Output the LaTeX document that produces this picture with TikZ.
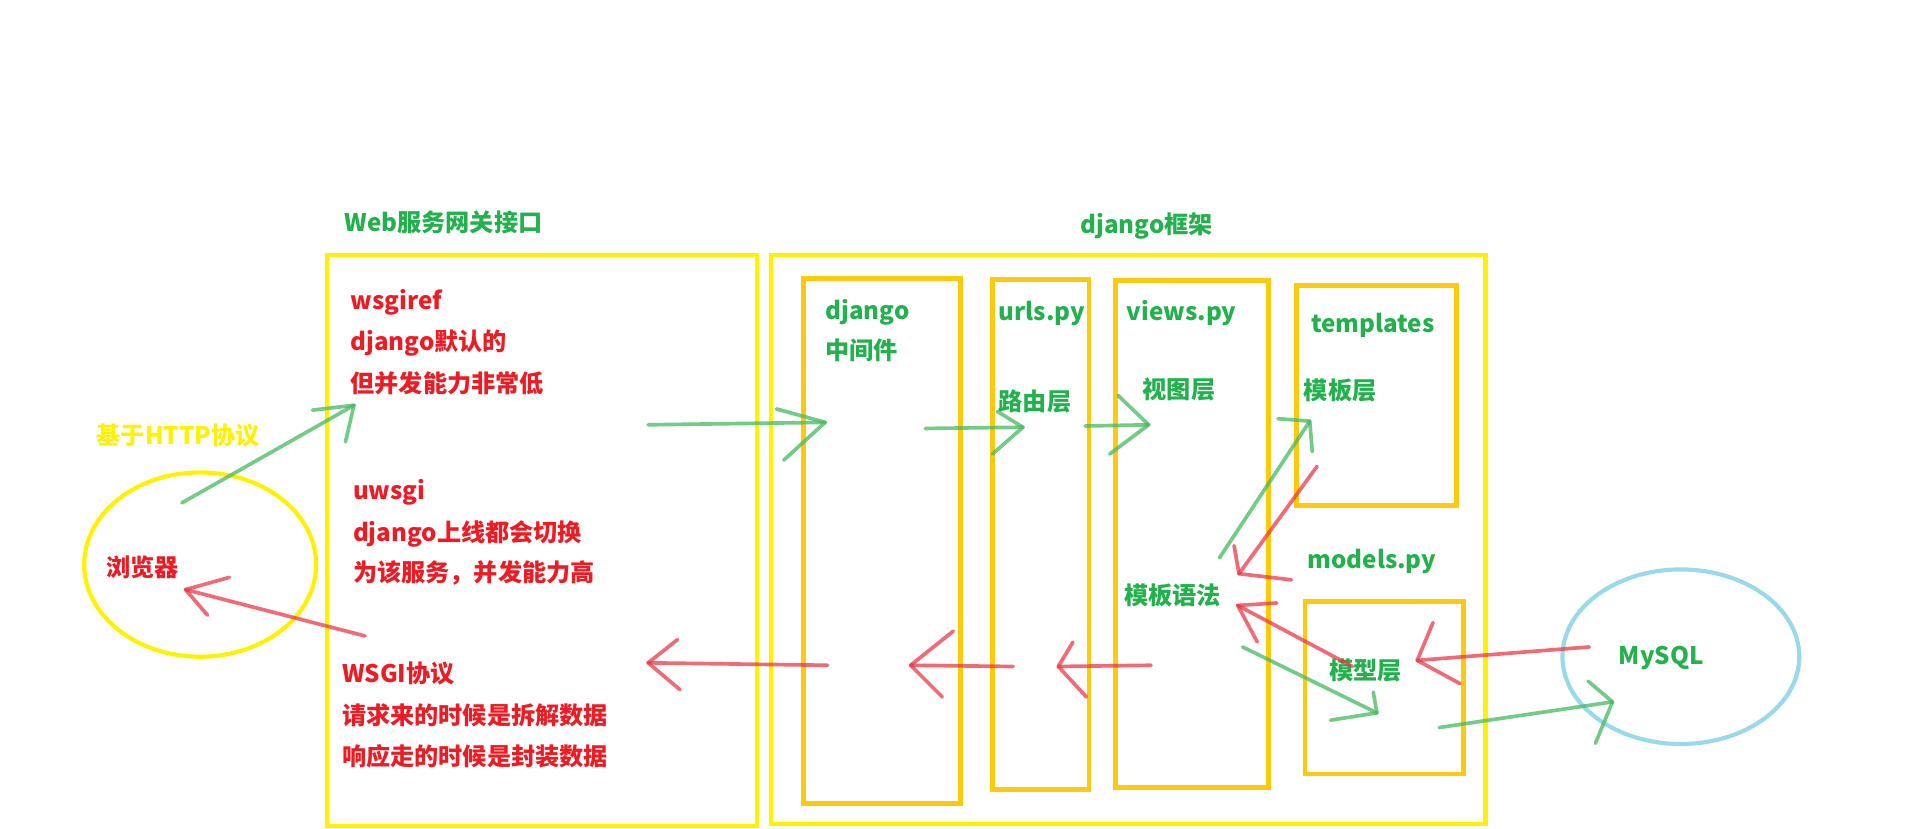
\documentclass[tikz,border=0pt]{standalone}
\usepackage{fontspec}
\setmainfont{Noto Sans CJK SC}
\definecolor{pgreen}{RGB}{34,177,76}
\definecolor{pred}{RGB}{237,28,36}
\definecolor{pyellow}{RGB}{255,242,0}
\definecolor{porange}{RGB}{255,201,14}
\definecolor{pblue}{RGB}{153,217,234}
\definecolor{agreen}{RGB}{70,185,95}
\definecolor{ared}{RGB}{235,50,65}
\tikzset{
  lbl/.style={anchor=west,inner sep=0pt,yshift=-3pt,text height=0.8em,text depth=0.12em,font=\bfseries\fontsize{19.8}{23}\selectfont},
  gtxt/.style={lbl,text=pgreen},
  rtxt/.style={lbl,text=pred},
  ytxt/.style={lbl,text=pyellow},
  outerbox/.style={draw=pyellow,line width=3.4pt},
  innerbox/.style={draw=porange,line width=3.8pt},
  garrow/.style={draw=agreen,line width=3pt,opacity=0.75,line cap=round,line join=round},
  rarrow/.style={draw=ared,line width=3pt,opacity=0.72,line cap=round,line join=round},
}
\begin{document}
\begin{tikzpicture}[x=1pt,y=-1pt]
\useasboundingbox[fill=white] (0,0) rectangle (1568,679);

% boxes
\draw[outerbox] (268,209) rectangle (620,677);
\draw[outerbox] (631.5,209) rectangle (1217,675);
\draw[innerbox] (658.5,228) rectangle (787,658);
\draw[innerbox] (813,229) rectangle (892,647);
\draw[innerbox] (914,230) rectangle (1039,645);
\draw[innerbox] (1062,234) rectangle (1193,414);
\draw[innerbox] (1069,493) rectangle (1199,634);

% ellipses
\draw[draw=pyellow,line width=3.4pt] (164,462.5) ellipse [x radius=95,y radius=75.5];
\draw[draw=pblue,line width=3.4pt] (1377,538) ellipse [x radius=97,y radius=71.5];

% titles
\node[gtxt] (t1) at (282,183) {Web服务网关接口};
\node[gtxt] (t2) at (885,185) {django框架};

% WSGI box text
\node[rtxt] (w1) at (287,247) {wsgiref};
\node[rtxt] (w2) at (287,281) {django默认的};
\node[rtxt] (w3) at (287,315) {但并发能力非常低};
\node[rtxt] (w4) at (289,403) {uwsgi};
\node[rtxt] (w5) at (289,437) {django上线都会切换};
\node[rtxt] (w6) at (289,470) {为该服务，并发能力高};
\node[rtxt] (w7) at (280,553) {WSGI协议};
\node[rtxt] (w8) at (280,587) {请求来的时候是拆解数据};
\node[rtxt] (w9) at (280,621) {响应走的时候是封装数据};

\node[ytxt] (http) at (79,358) {基于HTTP协议};
\node[rtxt] (br) at (87,466) {浏览器};

% django texts
\node[gtxt] (d1) at (676,255) {django};
\node[gtxt] (d2) at (676,288) {中间件};
\node[gtxt] (u1) at (818,256) {urls.py};
\node[gtxt] (u2) at (818,330) {路由层};
\node[gtxt] (v1) at (923,256) {views.py};
\node[gtxt] (v2) at (936,320) {视图层};
\node[gtxt] (tp1) at (1074,266) {templates};
\node[gtxt] (tp2) at (1068,321) {模板层};
\node[gtxt] (m1) at (1071,459) {models.py};
\node[gtxt] (v3) at (921,489) {模板语法};
\node[gtxt] (m2) at (1089,550) {模型层};
\node[gtxt] (sql) at (1326,538) {MySQL};

% arrow coordinates: start s, tip t, arms l and r
\coordinate (g1s) at (149,412); \coordinate (g1t) at (290,332); \coordinate (g1l) at (256,336); \coordinate (g1r) at (283,362);
\coordinate (g2s) at (531,348); \coordinate (g2t) at (676,346); \coordinate (g2l) at (636,335); \coordinate (g2r) at (642,377);
\coordinate (g3s) at (758,351); \coordinate (g3t) at (838,350); \coordinate (g3l) at (817,337); \coordinate (g3r) at (813,372);
\coordinate (g4s) at (889,349); \coordinate (g4t) at (941,348); \coordinate (g4l) at (916,324); \coordinate (g4r) at (909,372);
\coordinate (g5s) at (999,457); \coordinate (g5t) at (1073,345); \coordinate (g5l) at (1047,343); \coordinate (g5r) at (1075,370);
\coordinate (r6s) at (1079,382); \coordinate (r6t) at (1015,470); \coordinate (r6l) at (1011,447); \coordinate (r6r) at (1058,475);
\coordinate (r7s) at (1108,546); \coordinate (r7t) at (1014,496); \coordinate (r7l) at (1046,494); \coordinate (r7r) at (1030,526);
\coordinate (g8s) at (1018,530); \coordinate (g8t) at (1128,584); \coordinate (g8l) at (1125,567); \coordinate (g8r) at (1090,590);
\coordinate (r9s) at (1302,530); \coordinate (r9t) at (1161,541); \coordinate (r9l) at (1174,510); \coordinate (r9r) at (1196,560);
\coordinate (g10s) at (1179,596); \coordinate (g10t) at (1321,575); \coordinate (g10l) at (1301,558); \coordinate (g10r) at (1307,609);
\coordinate (r11s) at (943,545); \coordinate (r11t) at (867,546); \coordinate (r11l) at (879,526); \coordinate (r11r) at (890,571);
\coordinate (r12s) at (830,546); \coordinate (r12t) at (746,545); \coordinate (r12l) at (781,517); \coordinate (r12r) at (772,571);
\coordinate (r13s) at (678,545); \coordinate (r13t) at (531,543); \coordinate (r13l) at (555,524); \coordinate (r13r) at (557,565);
\coordinate (r14s) at (299,521); \coordinate (r14t) at (152,483); \coordinate (r14l) at (188,473); \coordinate (r14r) at (170,504);

\foreach \a in {g1,g2,g3,g4,g5,g8,g10}{
  \draw[garrow] (\a s) -- (\a t);
  \draw[garrow] (\a l) -- (\a t) -- (\a r);
}
\foreach \a in {r6,r7,r9,r11,r12,r13,r14}{
  \draw[rarrow] (\a s) -- (\a t);
  \draw[rarrow] (\a l) -- (\a t) -- (\a r);
}
\end{tikzpicture}
\end{document}
